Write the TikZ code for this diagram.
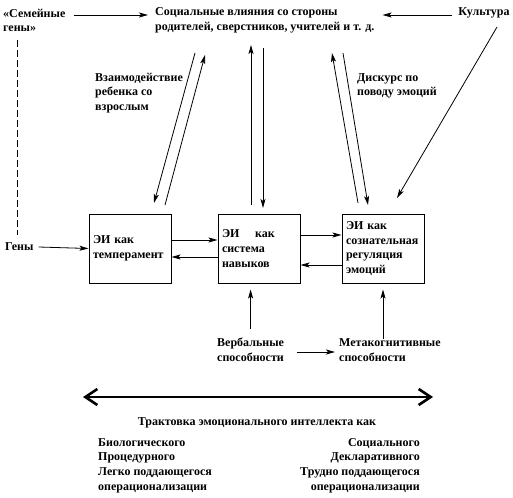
\documentclass[tikz,border=0pt]{standalone}
\usepackage{fontspec}
\setmainfont{Liberation Serif}
\usetikzlibrary{arrows.meta,positioning}
\tikzset{lbl/.style={font=\fontsize{12}{14.6}\selectfont\bfseries, inner sep=0pt, align=left},
  eibox/.style={draw, line width=1pt, minimum width=82pt, minimum height=69pt, text width=74pt, inner sep=4pt, align=left, font=\fontsize{12}{14.6}\selectfont\bfseries},
  arr/.style={line width=0.8pt, -{Stealth[length=9pt,width=5pt,inset=2pt]}},
  dashln/.style={line width=1pt, dash pattern=on 7pt off 3pt},
  axis/.style={line width=2.6pt, {Straight Barb[length=12pt,width=16pt]}-{Straight Barb[length=12pt,width=16pt]}}}

\begin{document}
\begin{tikzpicture}[x=1pt, y=-1pt]
\useasboundingbox (0,0) rectangle (513,497);
% top row
\node[lbl, anchor=west] (fam) at (3,20.5) {«Семейные\\гены»};
\node[lbl, anchor=west] (soc) at (155,20.5) {Социальные влияния со стороны\\родителей, сверстников, учителей и т. д.};
\node[lbl] (cult) at (484,13) {Культура};
\draw[arr] ([shift={(8pt,5.5pt)}]fam.east) -- ([shift={(-7pt,5.5pt)}]soc.west);
\draw[arr] ([shift={(-6pt,-2pt)}]cult.west) -- ([shift={(8pt,5.5pt)}]soc.east);
% boxes
\node[eibox] (b1) at (130,248.5) {ЭИ как\\темперамент};
\node[eibox, right=46pt of b1] (b2) {ЭИ\hspace{1.3em}как\\система\\навыков};
\node[eibox, right=41pt of b2] (b3) {ЭИ как\\сознательная\\регуляция\\эмоций};
\draw[arr] ([yshift=8.5pt]b1.east) -- ([yshift=8.5pt]b2.west);
\draw[arr] ([yshift=-8.5pt]b2.west) -- ([yshift=-8.5pt]b1.east);
\draw[arr] ([yshift=13.5pt]b2.east) -- ([yshift=13.5pt]b3.west);
\draw[arr] ([yshift=-16.5pt]b3.west) -- ([yshift=-16.5pt]b2.east);
% genes
\node[lbl, anchor=west] (genes) at (5,247) {Гены};
\draw[arr] ([xshift=5pt]genes.east) -- (b1.west);
\coordinate (dtop) at (17,40);
\coordinate (dbot) at (17,235);
\draw[dashln] (dtop) -- (dbot);
% labels on the links
\node[lbl, anchor=west] (inter) at (95,93) {Взаимодействие\\ребенка со\\взрослым};
\node[lbl, anchor=west] (disc) at (357,86) {Дискурс по\\поводу эмоций};
% links to the social node
\coordinate (s1) at (195,53);  \coordinate (e1) at (154,203);
\coordinate (s2) at (165,205); \coordinate (e2) at (205,55);
\coordinate (s3) at (251,205); \coordinate (e3) at (251,45);
\coordinate (s4) at (263,48);  \coordinate (e4) at (263,208);
\coordinate (s5) at (358,203); \coordinate (e5) at (332,53);
\coordinate (s6) at (343,53);  \coordinate (e6) at (368,205);
\coordinate (s7) at (497,27);  \coordinate (e7) at (397,198);
\foreach \a/\b in {s1/e1, s2/e2, s3/e3, s4/e4, s5/e5, s6/e6, s7/e7}
  \draw[arr] (\a) -- (\b);
% abilities
\node[lbl, anchor=west] (verb) at (217,350) {Вербальные\\способности};
\node[lbl, anchor=west] (meta) at (339,350) {Метакогнитивные\\способности};
\draw[arr] ([yshift=9pt]verb.north) -- ([yshift=-6pt]verb.north |- b2.south);
\draw[arr] (b3.south |- meta.north) -- ([yshift=-6pt]b3.south);
\draw[arr] ([shift={(13pt,-2pt)}]verb.east) -- ([shift={(-4pt,-2pt)}]meta.west);
% scale
\coordinate (axl) at (83,397);
\coordinate (axr) at (433,397);
\draw[axis] (axl) -- (axr);
\node[lbl] (cap) at (257,423) {Трактовка эмоционального интеллекта как};
\node[lbl, anchor=west] (left) at (98,465.5) {Биологического\\Процедурного\\Легко поддающегося\\операционализации};
\node[lbl, anchor=east, align=right] (right) at (420,465.5) {Социального\\Декларативного\\Трудно поддающегося\\операционализации};
\end{tikzpicture}
\end{document}
